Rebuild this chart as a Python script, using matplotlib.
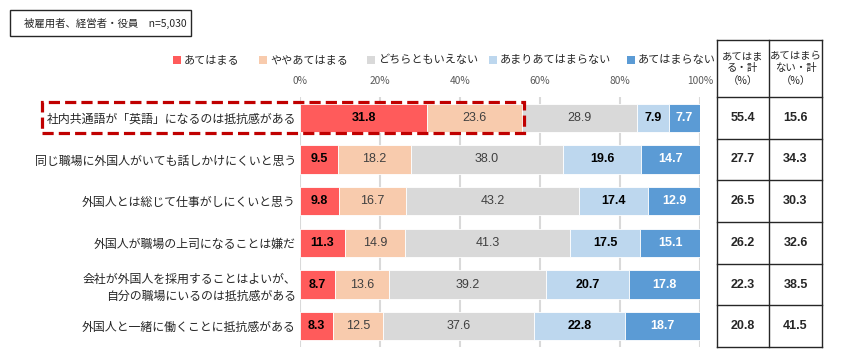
import matplotlib
matplotlib.use("Agg")
import matplotlib.pyplot as plt
from matplotlib.patches import Rectangle
import numpy as np

plt.rcParams['font.family'] = ['Noto Sans CJK JP', 'DejaVu Sans']

categories = [
    "社内共通語が「英語」になるのは抵抗感がある",
    "同じ職場に外国人がいても話しかけにくいと思う",
    "外国人とは総じて仕事がしにくいと思う",
    "外国人が職場の上司になることは嫌だ",
    "会社が外国人を採用することはよいが、\n自分の職場にいるのは抵抗感がある",
    "外国人と一緒に働くことに抵抗感がある",
]
series_names = ["あてはまる", "ややあてはまる", "どちらともいえない", "あまりあてはまらない", "あてはまらない"]
s1 = [31.8, 9.5, 9.8, 11.3, 8.7, 8.3]
s2 = [23.6, 18.2, 16.7, 14.9, 13.6, 12.5]
s3 = [28.9, 38.0, 43.2, 41.3, 39.2, 37.6]
s4 = [7.9, 19.6, 17.4, 17.5, 20.7, 22.8]
s5 = [7.7, 14.7, 12.9, 15.1, 17.8, 18.7]
total_agree = ["55.4", "27.7", "26.5", "26.2", "22.3", "20.8"]
total_disagree = ["15.6", "34.3", "30.3", "32.6", "38.5", "41.5"]
xticks = [0, 20, 40, 60, 80, 100]
header_note = "被雇用者、経営者・役員　n=5,030"
table_headers = ["あてはま\nる・計\n（%）", "あてはまら\nない・計\n（%）"]

colors = ["#FF5B5B", "#F8CBAD", "#D9D9D9", "#BDD7EE", "#5B9BD5"]
label_colors = ["#000000", "#404040", "#404040", "#000000", "#FFFFFF"]
label_weights = ["bold", "normal", "normal", "bold", "bold"]
num_font = ["Liberation Sans", "DejaVu Sans"]

W, H = 846, 360
fig = plt.figure(figsize=(W / 100, H / 100), dpi=100)

def fx(px):
    return px / W

def fy(py):
    return 1 - py / H

# main axes: x 300..700, y 97..347 px
ax = fig.add_axes([fx(300), fy(347), fx(400), (347 - 97) / H])
n = len(categories)
y = np.arange(n)
data = [s1, s2, s3, s4, s5]
for gx in xticks:
    ax.axvline(gx, color="#D9D9D9", lw=1.5, zorder=0)
left = np.zeros(n)
for i, vals in enumerate(data):
    vals = np.array(vals)
    ax.barh(y, vals, left=left, height=0.68, color=colors[i], edgecolor="white", linewidth=0.6, zorder=2)
    for j in range(n):
        ax.text(left[j] + vals[j] / 2, y[j], f"{vals[j]:.1f}", ha="center", va="center",
                fontsize=9, color=label_colors[i], fontweight=label_weights[i],
                family=num_font, zorder=3)
    left += vals
ax.set_xlim(0, 100)
ax.set_ylim(n - 0.5, -0.5)
ax.xaxis.tick_top()
ax.set_xticks(xticks)
ax.set_xticklabels([f"{t}%" for t in xticks], fontsize=7.3, color="#595959")
ax.tick_params(axis="x", length=0, pad=8)
ax.set_yticks(y)
ax.set_yticklabels(categories, fontsize=8.6, color="#262626", linespacing=1.35)
ax.tick_params(axis="y", length=0, pad=3)
for s in ax.spines.values():
    s.set_visible(False)

# dashed highlight box
fig.patches.append(Rectangle((fx(42), fy(133)), fx(524 - 42), (133 - 102) / H,
                             transform=fig.transFigure, fill=False, edgecolor="#C00000",
                             lw=2.3, linestyle=(0, (3.5, 1.6)), zorder=5))

# header note box
fig.patches.append(Rectangle((fx(10), fy(36)), fx(181), 26 / H, transform=fig.transFigure,
                             fill=False, edgecolor="#262626", lw=1.0))
fig.text(fx(24), fy(23), header_note, fontsize=7.5, va="center", ha="left", color="#262626")

# legend
leg_sq = [173, 259, 367, 489, 627]
for i, name in enumerate(series_names):
    fig.patches.append(Rectangle((fx(leg_sq[i]), fy(64)), fx(8), 8 / H, transform=fig.transFigure,
                                 facecolor=colors[i], edgecolor="none"))
    fig.text(fx(leg_sq[i] + 11), fy(60), name, fontsize=8, va="center", ha="left", color="#262626")

# table
tx = [717, 769, 822]
ty = [40, 97] + [97 + (347 - 97) / 6 * (k + 1) for k in range(6)]
for xx in tx:
    fig.add_artist(plt.Line2D([fx(xx), fx(xx)], [fy(40), fy(347)], color="#262626", lw=1.0))
for yy in ty:
    fig.add_artist(plt.Line2D([fx(717), fx(822)], [fy(yy), fy(yy)], color="#262626", lw=1.0))
for c in range(2):
    cx = (tx[c] + tx[c + 1]) / 2
    fig.text(fx(cx), fy((40 + 97) / 2), table_headers[c], fontsize=7.5, ha="center", va="center",
             color="#262626", linespacing=1.3)
    vals = total_agree if c == 0 else total_disagree
    for r in range(6):
        cy = (ty[r + 1] + ty[r + 2]) / 2
        fig.text(fx(cx), fy(cy), vals[r], fontsize=9, fontweight="bold", ha="center", va="center",
                 color="#262626", family=num_font)

fig.savefig("out.png", dpi=100)
